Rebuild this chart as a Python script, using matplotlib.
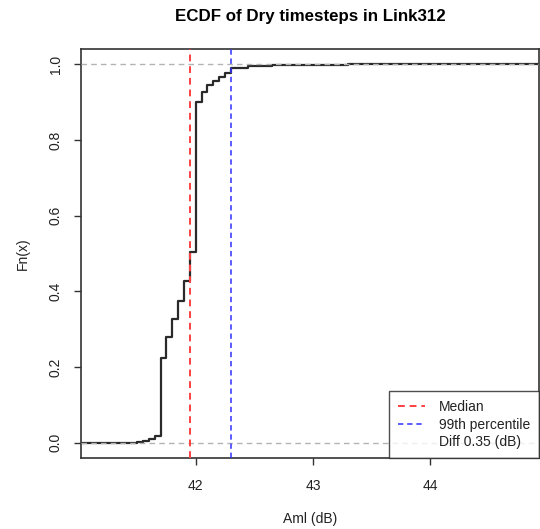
import matplotlib
matplotlib.use("Agg")
import matplotlib.pyplot as plt
from matplotlib.lines import Line2D
import numpy as np

plt.rcParams['font.family'] = ['Liberation Sans', 'DejaVu Sans']

# ECDF of Aml for dry timesteps (jump locations and cumulative fractions)
aml_db = [41.50, 41.55, 41.60, 41.65, 41.70, 41.75, 41.80, 41.85, 41.90, 41.95,
          42.00, 42.05, 42.10, 42.15, 42.20, 42.25, 42.30, 42.45, 42.65, 43.30]
fn = [0.003, 0.006, 0.010, 0.018, 0.224, 0.280, 0.328, 0.375, 0.428, 0.503,
      0.899, 0.927, 0.945, 0.956, 0.967, 0.976, 0.990, 0.994, 0.997, 1.000]

median_db = 41.95
p99_db = 42.30

x_ticks = [42, 43, 44]
y_ticks = [0.0, 0.2, 0.4, 0.6, 0.8, 1.0]
x_limits = (41.02, 44.93)
y_limits = (-0.04, 1.04)

fig = plt.figure(figsize=(5.40, 5.29), dpi=100)
ax = fig.add_axes([0.150, 0.1342, 0.848, 0.7732])
ax.set_xlim(*x_limits)
ax.set_ylim(*y_limits)

# step function, extended to the plot edges
xs = np.concatenate([[x_limits[0]], aml_db, [x_limits[1]]])
ys = np.concatenate([[0.0], fn, [fn[-1]]])
ax.step(xs, ys, where='post', color='#2a2a2a', lw=1.6, zorder=2)

# reference lines at 0 and 1
for h in (0.0, 1.0):
    ax.axhline(h, color='#b3b3b3', lw=1.0, dashes=(4, 3), zorder=3)

ax.axvline(median_db, color='#ff4040', lw=1.4, dashes=(3.5, 2.5), zorder=4)
ax.axvline(p99_db, color='#3030ff', lw=1.1, dashes=(3.5, 2.5), zorder=4)

ax.set_xticks(x_ticks)
ax.set_xticklabels([str(t) for t in x_ticks])
ax.set_yticks(y_ticks)
ax.set_yticklabels([f"{t:.1f}" for t in y_ticks], rotation=90, va='center')
ax.tick_params(axis='both', direction='out', length=5, width=1.0,
               color='#333333', labelsize=10, labelcolor='#222222')
ax.tick_params(axis='x', pad=10)
ax.tick_params(axis='y', pad=8)

for sp in ax.spines.values():
    sp.set_color('#333333')
    sp.set_linewidth(1.2)

ax.set_xlabel("Aml (dB)", fontsize=10, color='#222222', labelpad=14)
ax.set_ylabel("Fn(x)", fontsize=10, color='#222222', labelpad=14)
ax.set_title("ECDF of Dry timesteps in Link312", fontsize=12.2, fontweight='bold',
             pad=20)

handles = [
    Line2D([], [], color='#ff4040', lw=1.4, dashes=(3.5, 2.5)),
    Line2D([], [], color='#3030ff', lw=1.1, dashes=(3.5, 2.5)),
    Line2D([], [], color='none'),
]
labels = ["Median", "99th percentile", f"Diff {p99_db - median_db:.2f} (dB)"]
leg = ax.legend(handles, labels, loc='lower right', fontsize=10,
                frameon=True, fancybox=False, borderaxespad=0.0,
                handlelength=1.9, handletextpad=1.0, borderpad=0.65,
                labelspacing=0.25)
leg.get_frame().set_edgecolor('#222222')
leg.get_frame().set_linewidth(1.0)
for t in leg.get_texts():
    t.set_color('#222222')

fig.savefig("out.png", dpi=100)
